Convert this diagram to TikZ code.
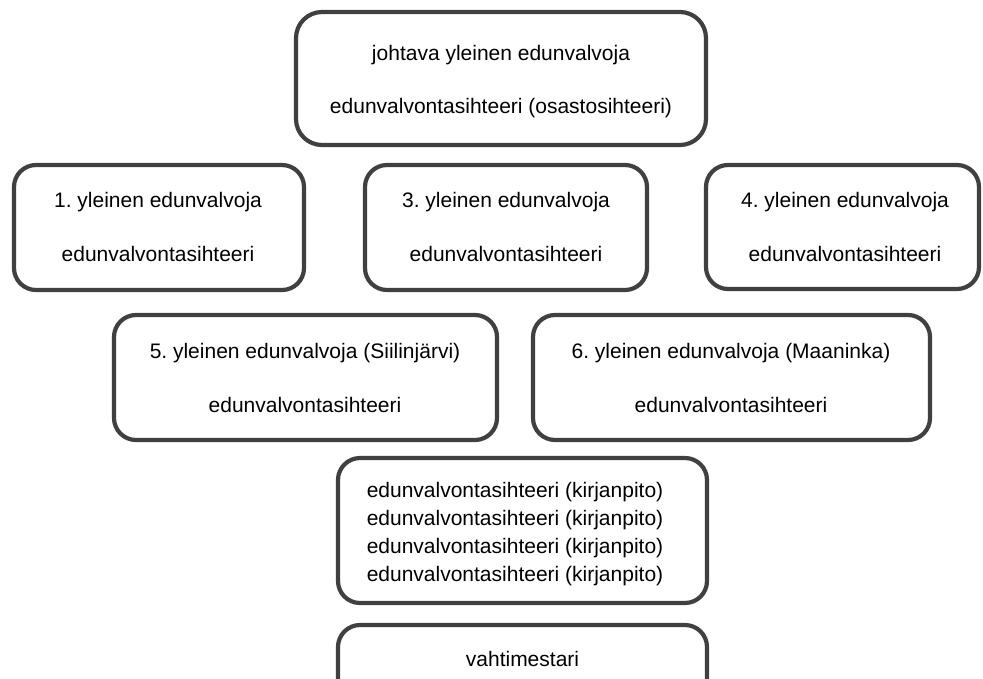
\documentclass[tikz,border=0pt]{standalone}
\usepackage{fontspec}
\setmainfont{Liberation Sans}
\frenchspacing
\definecolor{boxgray}{HTML}{404040}
\tikzset{
  orgbox/.style={draw=boxgray, line width=4.2pt, rounded corners=22pt, inner sep=0pt, outer sep=0pt},
  lbl/.style={anchor=base, inner sep=0pt, outer sep=0pt, font=\fontsize{21}{25}\selectfont, text=black}
}
\begin{document}
\begin{tikzpicture}[x=1pt, y=-1pt]
\useasboundingbox (0,0) rectangle (983,678);
% boxes
\node[orgbox, rounded corners=26pt, minimum width=410pt, minimum height=133pt] (top) at (501,78.5) {};
\node[orgbox, minimum width=290pt, minimum height=125pt] (b1) at (159,227.5) {};
\node[orgbox, minimum width=282pt, minimum height=125pt] (b2) at (506,227.5) {};
\node[orgbox, minimum width=273pt, minimum height=124pt] (b3) at (842.5,227) {};
\node[orgbox, minimum width=383pt, minimum height=125pt] (b4) at (305.5,377.5) {};
\node[orgbox, minimum width=397pt, minimum height=125pt] (b5) at (731.5,377.5) {};
\node[orgbox, minimum width=369pt, minimum height=145pt] (b6) at (522.5,530.5) {};
\node[orgbox, minimum width=369pt, minimum height=80pt] (b7) at (522.5,665) {};
% texts
\node[lbl] (t0a) at (501,60) {johtava yleinen edunvalvoja};
\node[lbl] (t0b) at (501,113) {edunvalvontasihteeri (osastosihteeri)};
\node[lbl] (t1a) at (158,207.5) {1. yleinen edunvalvoja};
\node[lbl] (t1b) at (158,261.5) {edunvalvontasihteeri};
\node[lbl] (t2a) at (506,207.5) {3. yleinen edunvalvoja};
\node[lbl] (t2b) at (506,261.5) {edunvalvontasihteeri};
\node[lbl] (t3a) at (845,207.5) {4. yleinen edunvalvoja};
\node[lbl] (t3b) at (845,261.5) {edunvalvontasihteeri};
\node[lbl] (t4a) at (305,358.5) {5. yleinen edunvalvoja (Siilinjärvi)};
\node[lbl] (t4b) at (305,412) {edunvalvontasihteeri};
\node[lbl] (t5a) at (731,358.5) {6. yleinen edunvalvoja (Maaninka)};
\node[lbl] (t5b) at (731,412) {edunvalvontasihteeri};
\node[lbl] (t6a) at (515,497) {edunvalvontasihteeri (kirjanpito)};
\node[lbl] (t6b) at (515,525) {edunvalvontasihteeri (kirjanpito)};
\node[lbl] (t6c) at (515,553) {edunvalvontasihteeri (kirjanpito)};
\node[lbl] (t6d) at (515,581) {edunvalvontasihteeri (kirjanpito)};
\node[lbl] (t7) at (522.5,666) {vahtimestari};
\end{tikzpicture}
\end{document}
